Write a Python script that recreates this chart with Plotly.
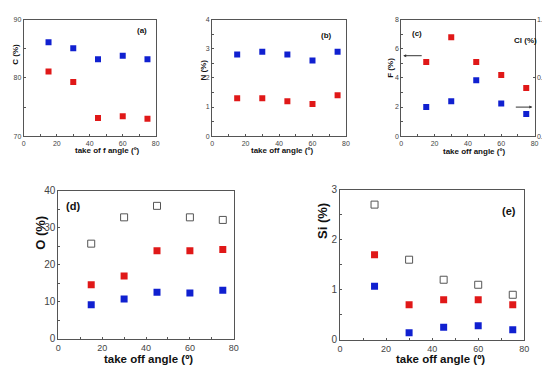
import plotly.graph_objects as go

angles = [15, 30, 45, 60, 75]

# (a) Carbon
c_blue = [86.1, 85.1, 83.2, 83.8, 83.2]
c_red = [81.1, 79.3, 73.1, 73.4, 73.0]
# (b) Nitrogen
n_blue = [2.8, 2.9, 2.8, 2.6, 2.9]
n_red = [1.3, 1.3, 1.2, 1.1, 1.4]
# (c) Fluorine (left) and Chlorine (right)
f_red = [5.1, 6.8, 5.1, 4.2, 3.3]
cl_blue = [0.25, 0.30, 0.48, 0.28, 0.19]
# (d) Oxygen
o_open = [25.7, 32.8, 35.9, 32.8, 32.1]
o_red = [14.6, 17.0, 23.8, 23.8, 24.1]
o_blue = [9.2, 10.8, 12.6, 12.4, 13.1]
# (e) Silicon
si_open = [2.70, 1.60, 1.20, 1.10, 0.90]
si_red = [1.70, 0.70, 0.80, 0.80, 0.70]
si_blue = [1.07, 0.14, 0.25, 0.28, 0.20]

BLUE = "#1020d0"
RED = "#e01818"
OPEN = "#555555"
FONT = "Liberation Sans"

fig = go.Figure()

def sq(x, y, color, xa, ya, size, open_=False):
    if open_:
        m = dict(symbol="square-open", size=size, color=color, line=dict(width=1, color=color))
    else:
        m = dict(symbol="square", size=size, color=color, line=dict(width=0))
    fig.add_trace(go.Scatter(x=x, y=y, mode="markers", marker=m, xaxis=xa, yaxis=ya, showlegend=False))

sq(angles, c_blue, BLUE, "x", "y", 6)
sq(angles, c_red, RED, "x", "y", 6)
sq(angles, n_blue, BLUE, "x2", "y2", 6)
sq(angles, n_red, RED, "x2", "y2", 6)
sq(angles, f_red, RED, "x3", "y3", 6)
sq(angles, cl_blue, BLUE, "x3", "y6", 6)
sq(angles, o_open, OPEN, "x4", "y4", 7, True)
sq(angles, o_red, RED, "x4", "y4", 7)
sq(angles, o_blue, BLUE, "x4", "y4", 7)
sq(angles, si_open, OPEN, "x5", "y5", 7, True)
sq(angles, si_red, RED, "x5", "y5", 7)
sq(angles, si_blue, BLUE, "x5", "y5", 7)

LINE = "#555555"

def xax(domain, anchor, fs):
    return dict(domain=domain, anchor=anchor, range=[0, 80], dtick=20, showgrid=False, zeroline=False,
                showline=True, linecolor=LINE, linewidth=1, mirror=True, ticks="inside", ticklen=2,
                tickcolor=LINE, tickfont=dict(family=FONT, size=fs, color="#444"),
                minor=dict(ticks="inside", ticklen=2, dtick=10, tickcolor=LINE))

def yax(domain, anchor, rng, dtick, fs, mirror=True):
    return dict(domain=domain, anchor=anchor, range=rng, dtick=dtick, showgrid=False, zeroline=False,
                showline=True, linecolor=LINE, linewidth=1, mirror=mirror, ticks="inside", ticklen=2,
                tickcolor=LINE, tickfont=dict(family=FONT, size=fs, color="#444"),
                minor=dict(ticks="inside", ticklen=2, dtick=dtick / 2, tickcolor=LINE))

top_y = [0.655, 0.984]
fig.update_layout(
    width=550, height=365, margin=dict(l=0, r=0, t=0, b=0),
    paper_bgcolor="white", plot_bgcolor="white",
    xaxis=xax([0.0236, 0.267], "y", 7),
    yaxis=yax(top_y, "x", [70, 90], 10, 7),
    xaxis2=xax([0.371, 0.618], "y2", 7),
    yaxis2=yax(top_y, "x2", [0, 4], 1, 7),
    xaxis3=xax([0.72, 0.966], "y3", 7),
    yaxis3=yax(top_y, "x3", [0, 8], 2, 7, mirror=False),
    yaxis6=dict(overlaying="y3", side="right", anchor="x3", range=[0, 1], dtick=0.5, tickformat=".1f",
                showgrid=False, zeroline=False, showline=True, linecolor=LINE, linewidth=1,
                ticks="inside", ticklen=2, tickcolor=LINE, ticklabeloverflow="allow",
                tickfont=dict(family=FONT, size=7, color="#444")),
    xaxis4=xax([0.0873, 0.411], "y4", 9),
    yaxis4=yax([0.0822, 0.501], "x4", [0, 40], 10, 10),
    xaxis5=xax([0.607, 0.947], "y5", 9),
    yaxis5=yax([0.0795, 0.504], "x5", [0, 3], 1, 10),
)

def ann(text, x, y, size, angle=0, bold=True):
    fig.add_annotation(text=f"<b>{text}</b>" if bold else text, x=x / 550, y=1 - y / 365,
                       xref="paper", yref="paper", showarrow=False, textangle=angle,
                       font=dict(family=FONT, size=size, color="#111"),
                       xanchor="center", yanchor="middle")

# axis titles
ann("C (%)", 5, 41, 8, -90)
ann("N (%)", 195, 58, 8, -90)
ann("F (%)", 385, 55, 8, -90)
ann("Cl (%)", 522, 27, 8)
ann("O (%)", 30, 226, 13, -90)
ann("Si (%)", 316, 213, 13, -90)
ann("take of f angle (º)", 98, 141, 8)
ann("take off angle (º)", 275, 141, 8)
ann("take off angle (º)", 470, 142, 8)
ann("take off angle (º)", 140, 356, 11.5)
ann("take off angle (º)", 436, 356, 11.5)

# panel labels
ann("(a)", 133, 17, 8)
ann("(b)", 320, 22, 8)
ann("(c)", 412, 20, 8)
ann("(d)", 63, 198, 11)
ann("(e)", 505, 203, 11)

# arrows in (c)
fig.add_annotation(x=398 / 550, y=1 - 43 / 365, xref="paper", yref="paper", ax=20, ay=0,
                   showarrow=True, arrowhead=2, arrowsize=0.6, arrowwidth=1, arrowcolor="#333", text="")
fig.add_annotation(x=529 / 550, y=1 - 96 / 365, xref="paper", yref="paper", ax=-18, ay=0,
                   showarrow=True, arrowhead=2, arrowsize=0.6, arrowwidth=1, arrowcolor="#333", text="")

fig.write_html("out.html")
